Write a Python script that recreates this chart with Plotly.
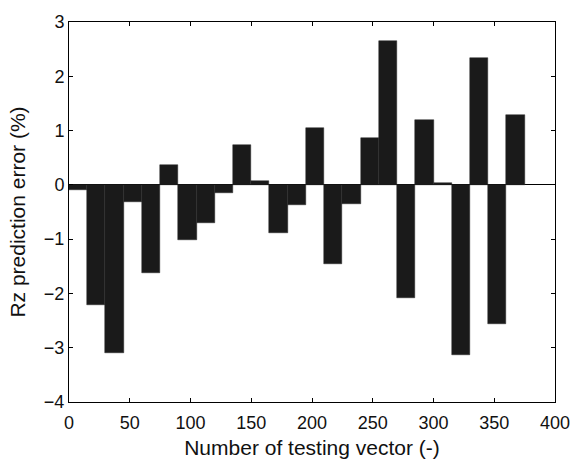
import plotly.graph_objects as go

group_start = [0, 15, 30, 45, 60, 75, 90, 105, 120, 135, 150, 165, 180,
               195, 210, 225, 240, 255, 270, 285, 300, 315, 330, 345, 360]
group_width = 15
errors = [-0.10, -2.21, -3.09, -0.31, -1.62, 0.37, -1.01, -0.71, -0.15,
          0.74, 0.08, -0.88, -0.37, 1.05, -1.45, -0.36, 0.86, 2.65,
          -2.08, 1.19, 0.04, -3.13, 2.33, -2.57, 1.29]

x_ticks = [0, 50, 100, 150, 200, 250, 300, 350, 400]
y_ticks = [-4, -3, -2, -1, 0, 1, 2, 3]

centers = [s + group_width / 2 for s in group_start]

fig = go.Figure()
fig.add_trace(go.Bar(
    x=centers, y=errors, width=[group_width] * len(centers),
    marker=dict(color="#1a1a1a", line=dict(color="#2a2a2a", width=0.5)),
    showlegend=False,
))

axis_common = dict(
    showgrid=False, showline=True, linecolor="black", linewidth=1,
    mirror="ticks", ticks="inside", ticklen=4, tickcolor="black",
    tickfont=dict(family="Liberation Sans, Arial, sans-serif", size=18, color="#111"),
)

fig.update_layout(
    width=582, height=467,
    margin=dict(l=69, r=21, t=17, b=63),
    paper_bgcolor="white", plot_bgcolor="white",
    bargap=0,
    font=dict(family="Liberation Sans, Arial, sans-serif", color="#111"),
    xaxis=dict(range=[0, 400], tickvals=x_ticks, ticklabelstandoff=4,
               title=dict(text="Number of testing vector (-)", font=dict(size=21), standoff=8),
               zeroline=False, **axis_common),
    yaxis=dict(range=[-4, 3], tickvals=y_ticks,
               title=dict(text="Rz prediction error (%)", font=dict(size=21), standoff=12),
               zeroline=True, zerolinecolor="black", zerolinewidth=1,
               **axis_common),
)

fig.write_html("out.html")
